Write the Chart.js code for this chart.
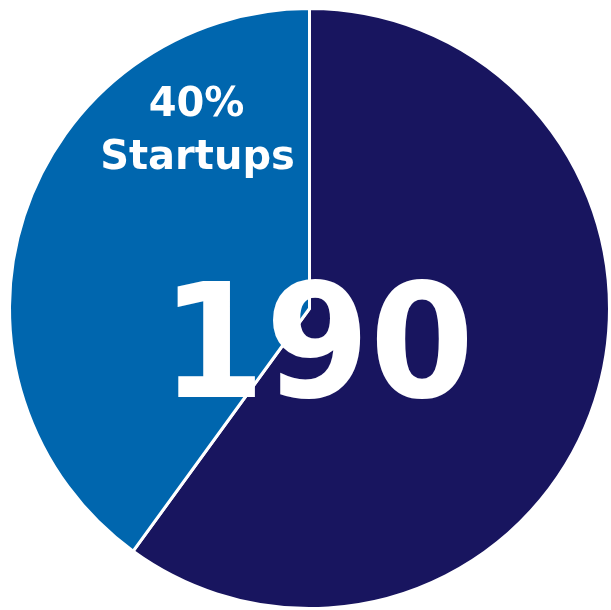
<!DOCTYPE html>
<html><head><meta charset="utf-8">
<script src="https://cdn.jsdelivr.net/npm/chart.js@4"></script>
<style>html,body{margin:0;padding:0;background:#fff;}#wrap{width:611px;height:610px;}</style>
</head><body><div id="wrap"><canvas id="c"></canvas></div>
<script>
const categories = ["Other", "Startups"];
const values = [60, 40];
const colors = ["#18155F", "#0066AE"];
const centerLabel = "190";
const sliceLabel = ["40%", "Startups"];

const textPlugin = {
  id: 'texts',
  afterDraw(chart) {
    const ctx = chart.ctx;
    const arc = chart.getDatasetMeta(0).data[0];
    const cx = arc.x, cy = arc.y;
    ctx.save();
    ctx.fillStyle = '#fff';
    ctx.textAlign = 'center';
    ctx.textBaseline = 'alphabetic';
    ctx.save();
    ctx.translate(cx + 8, cy + 88);
    ctx.scale(0.95, 1);
    ctx.font = 'bold 158px "DejaVu Sans"';
    ctx.fillText(centerLabel, 0, 0);
    ctx.restore();
    ctx.font = 'bold 40px "DejaVu Sans"';
    ctx.fillText(sliceLabel[0], cx - 113, cy - 193);
    ctx.fillText(sliceLabel[1], cx - 112, cy - 140);
    ctx.restore();
  }
};

new Chart(document.getElementById('c'), {
  type: 'pie',
  data: { labels: categories, datasets: [{ data: values, backgroundColor: colors, borderColor: '#fff', borderWidth: 3 }] },
  options: {
    responsive: true, maintainAspectRatio: false, animation: false,
    layout: { padding: { left: 8, top: 7, right: 0, bottom: 0 } },
    plugins: { legend: { display: false }, tooltip: { enabled: false } }
  },
  plugins: [textPlugin]
});
</script></body></html>
